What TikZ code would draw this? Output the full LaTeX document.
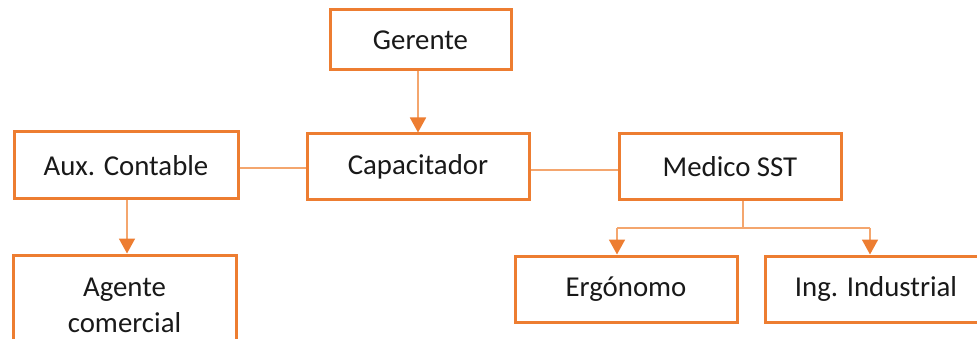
\documentclass[tikz,border=0pt]{standalone}
\usepackage{fontspec}
\setmainfont{Carlito}
\usetikzlibrary{arrows.meta,calc}
\definecolor{boxor}{HTML}{ED7D31}
\definecolor{lineor}{HTML}{F4A66E}
\tikzset{
  orgbox/.style={draw=boxor, line width=3pt, fill=white, minimum width=#1, inner sep=0pt, align=center,
    font=\fontsize{28.8}{36}\selectfont, text=black!90},
  conn/.style={draw=lineor, line width=1.8pt},
  arr/.style={conn, -{Triangle[width=16pt 0,length=15pt 0,color=boxor]}},
}
\begin{document}
\begin{tikzpicture}[x=1pt,y=-1pt]
\useasboundingbox (0,0) rectangle (977,339);
\clip (0,0) rectangle (977,339);
\node[orgbox=181pt, minimum height=60pt] (ger) at (420.5,40) {Gerente};
\node[orgbox=222pt, minimum height=66pt] (cap) at (418,167) {Capacitador};
\node[orgbox=224pt, minimum height=67pt] (aux) at (126,165.5) {Aux. Contable};
\node[orgbox=222pt, minimum height=66pt] (med) at (730,167) {Medico SST};
\node[orgbox=223pt, minimum height=100pt] (age) at (124.5,305) {Agente\\comercial};
\node[orgbox=222pt, minimum height=66pt] (erg) at (626,289) {Ergónomo};
\node[orgbox=222pt, minimum height=66pt] (ing) at (876,289) {Ing. Industrial};
\coordinate (fork) at (743,228);
\coordinate (fl) at (617,228);
\coordinate (fr) at (870,228);
\draw[arr] (cap.north |- ger.south) -- (cap.north);
\draw[arr] ($(aux.south)+(1,0)$) -- ($(aux.south |- age.north)+(1,0)$);
\draw[conn] ($(aux.east)+(0,2.5)$) -- ($(aux.east -| cap.west)+(0,2.5)$);
\draw[conn] ($(cap.east)+(0,3)$) -- ($(med.west)+(0,3)$);
\draw[conn] (med.south -| fork) -- (fork);
\draw[conn] (fl) -- (fr);
\draw[arr] (fl) -- (fl |- erg.north);
\draw[arr] (fr) -- (fr |- ing.north);
\end{tikzpicture}
\end{document}
